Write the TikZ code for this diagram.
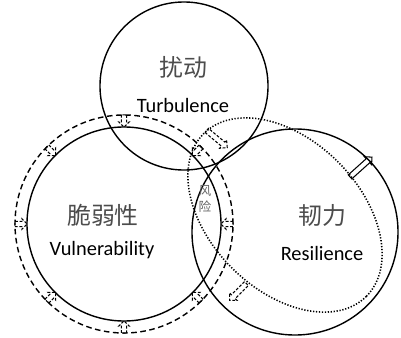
\documentclass[tikz,border=0pt]{standalone}
\usepackage{fontspec}
\setmainfont{Carlito}
\newfontfamily\cjk{Noto Sans CJK SC}
\usetikzlibrary{shapes.geometric,calc}

\tikzset{
  ring/.style={draw,circle,line width=1pt,inner sep=0pt},
  pics/hollowarrow/.style={code={
    \draw[line width=0.75pt] (-#1,-1.9pt) -- (#1-3.8pt,-1.9pt) -- (#1-3.8pt,-3.8pt) -- (#1,0pt)
      -- (#1-3.8pt,3.8pt) -- (#1-3.8pt,1.9pt) -- (-#1,1.9pt) -- cycle;
  }},
  dashy/.style={dash pattern=on 2pt off 1.2pt},
  cn/.style={font=\cjk\fontsize{17}{19}\selectfont,text=black!70},
  en/.style={font=\fontsize{14.5}{16}\selectfont}
}

\begin{document}
\begin{tikzpicture}[x=0.025cm,y=0.025cm]
\useasboundingbox (0,0) rectangle (401,337);

% the three circles and the two outer rings
\node[ring,minimum size=4.2cm] (turb) at (184,251) {};
\node[ring,minimum size=4.85cm] (vul) at (124,113) {};
\node[ring,minimum size=5.45cm,dash pattern=on 4pt off 2.5pt] (vulring) at (124,113) {};
\node[ring,minimum size=5.15cm] (res) at (295,105) {};
\node[draw,ellipse,line width=1.1pt,dash pattern=on 0.9pt off 1.2pt,inner sep=0pt,minimum width=5.75cm,minimum height=3.75cm,rotate=-45] (resring) at (285,122) {};

% labels
\node[cn] (turbcn) at (183,270) {扰动};
\node[en] (turben) at (183,232) {Turbulence};
\node[cn] (vulcn) at (103,122) {脆弱性};
\node[en] (vulen) at (102,87) {Vulnerability};
\node[cn] (rescn) at (322,122) {韧力};
\node[en] (resen) at (322,84) {Resilience};
\node[font=\cjk\fontsize{9}{10}\selectfont,text=black!60,align=center,inner sep=0pt] (risk) at (205,138) {风\\[1pt]险};

% pressure on the vulnerability circle
\foreach \a in {0,45,...,315}
  \pic[dashy,rotate=\a+180] (press\a) at ($(vul)+(\a:103)$) {hollowarrow=4.4pt};

% push from the resilience ring
\pic[dashy,rotate=-40] (push1) at (217,198) {hollowarrow=9.5pt};
\pic[rotate=42] (push2) at (361,170) {hollowarrow=10.5pt};
\pic[dashy,rotate=-135] (push3) at (238,45) {hollowarrow=8.5pt};
\end{tikzpicture}
\end{document}
